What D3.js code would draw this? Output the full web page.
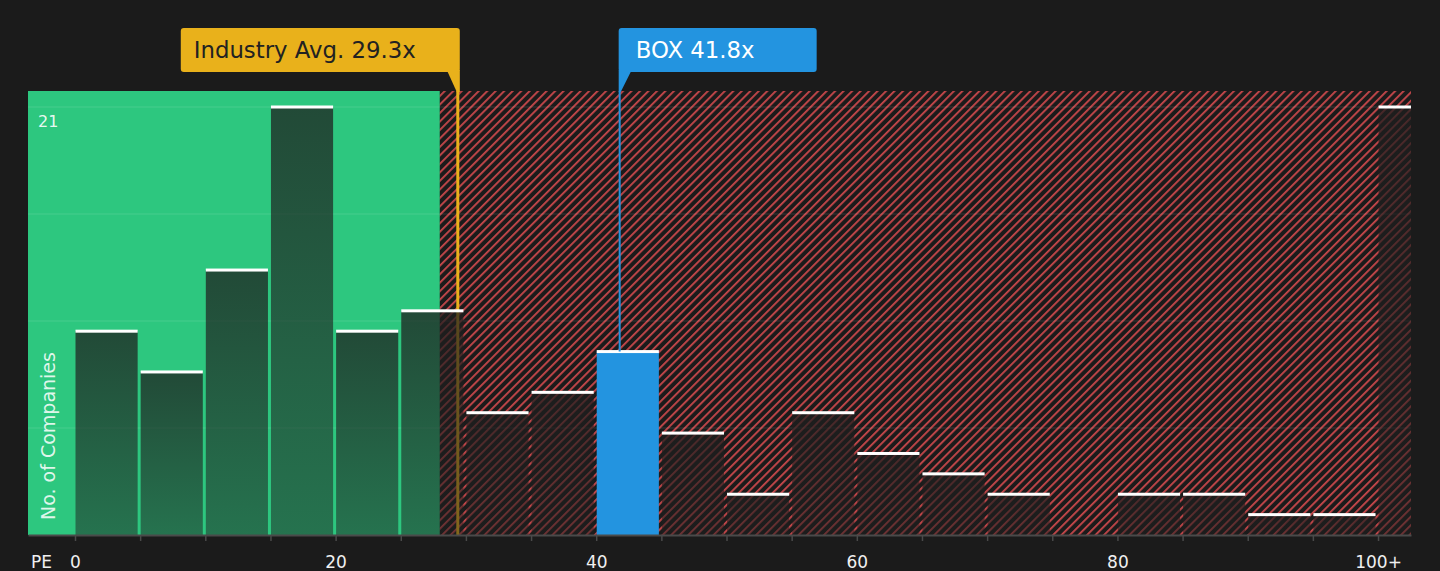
<!DOCTYPE html>
<meta charset="utf-8">
<script src="https://d3js.org/d3.v7.min.js"></script>
<style>
  body { margin: 0; background: #1b1b1b; }
  text { font-family: "DejaVu Sans", sans-serif; }
</style>
<div id="chart"></div>
<script>

    // PE histogram bins (lower edge of each 5-wide bin, last one is 100+)
    var binStarts = [0, 5, 10, 15, 20, 25, 30, 35, 40, 45, 50, 55, 60, 65, 70, 75, 80, 85, 90, 95, 100];
    var counts = [10, 8, 13, 21, 10, 11, 6, 7, 9, 5, 2, 6, 4, 3, 2, 0, 2, 2, 1, 1, 21];
    var xTickValues = [0, 5, 10, 15, 20, 25, 30, 35, 40, 45, 50, 55, 60, 65, 70, 75, 80, 85, 90, 95, 100];
    var xTickLabels = { 0: "0", 20: "20", 40: "40", 60: "60", 80: "80", 100: "100+" };
    var yGridValues = [5.25, 10.5, 15.75, 21];
    var yLabelValue = 21;
    var fairZoneEnd = 28;
    var industryAvg = 29.3;
    var companyName = "BOX";
    var companyPE = 41.8;

    var width = 1440, height = 571;
    var plot = { left: 28, right: 1411, top: 91, bottom: 535 };

    var svg = d3.select("#chart")
        .append("svg")
        .attr("width", width)
        .attr("height", height)
        .style("display", "block");

    svg.append("rect").attr("width", width).attr("height", height).attr("fill", "#1b1b1b");

    var x = d3.scaleLinear()
        .domain([-3.607, 102.53])
        .range([plot.left, plot.right]);

    var y = d3.scaleLinear()
        .domain([0, 21])
        .range([plot.bottom, 107]);

    var defs = svg.append("defs");

    // red hatching
    var pat = defs.append("pattern")
        .attr("id", "hatch")
        .attr("patternUnits", "userSpaceOnUse")
        .attr("width", 6)
        .attr("height", 6)
        .attr("patternTransform", "rotate(45)");
    pat.append("rect").attr("width", 6).attr("height", 6).attr("fill", "#1b1b1b");
    pat.append("rect").attr("width", 1.8).attr("height", 6).attr("fill", "#c9484b");

    var grad = defs.append("linearGradient")
        .attr("id", "barGrad")
        .attr("x1", 0).attr("y1", 0).attr("x2", 0).attr("y2", 1);
    grad.append("stop").attr("offset", "0%").attr("stop-color", "#1e1e1e").attr("stop-opacity", 0.74);
    grad.append("stop").attr("offset", "100%").attr("stop-color", "#1e1e1e").attr("stop-opacity", 0.5);

    defs.append("clipPath").attr("id", "plotClip")
        .append("rect")
        .attr("x", plot.left).attr("y", plot.top - 5)
        .attr("width", plot.right - plot.left)
        .attr("height", plot.bottom - plot.top + 5);

    // zones
    svg.append("rect")
        .attr("x", plot.left)
        .attr("y", plot.top)
        .attr("width", x(fairZoneEnd) - plot.left)
        .attr("height", plot.bottom - plot.top)
        .attr("fill", "#2dc77f");

    svg.append("rect")
        .attr("x", x(fairZoneEnd))
        .attr("y", plot.top)
        .attr("width", plot.right - x(fairZoneEnd))
        .attr("height", plot.bottom - plot.top)
        .attr("fill", "url(#hatch)");

    // gridlines
    svg.selectAll(".grid")
        .data(yGridValues)
        .enter()
        .append("line")
        .attr("x1", plot.left)
        .attr("x2", plot.right)
        .attr("y1", function (d) { return y(d); })
        .attr("y2", function (d) { return y(d); })
        .attr("stroke", "#ffffff")
        .attr("stroke-opacity", 0.12)
        .attr("stroke-width", 1);

    // industry avg line
    svg.append("line")
        .attr("x1", x(industryAvg) + 1).attr("x2", x(industryAvg) + 1)
        .attr("y1", plot.top).attr("y2", plot.bottom)
        .attr("stroke", "#e9b11b")
        .attr("stroke-width", 3);

    var bins = binStarts.map(function (d, i) { return { lo: d, hi: d + 5, v: counts[i] }; });

    var g = svg.append("g").attr("clip-path", "url(#plotClip)");

    // company line, up to its bar
    var compBin = bins.find(function (d) { return companyPE >= d.lo && companyPE < d.hi; });
    svg.append("line")
        .attr("x1", x(companyPE)).attr("x2", x(companyPE))
        .attr("y1", plot.top).attr("y2", y(compBin.v))
        .attr("stroke", "#2394e0")
        .attr("stroke-width", 2);

    // bars
    g.selectAll(".bar")
        .data(bins)
        .enter()
        .append("rect")
        .attr("x", function (d) { return x(d.lo) + 0.5; })
        .attr("y", function (d) { return y(d.v); })
        .attr("width", function (d) { return x(d.hi) - x(d.lo) - 3; })
        .attr("height", function (d) { return y(0) - y(d.v); })
        .attr("fill", function (d) { return d === compBin ? "#2394e0" : "url(#barGrad)"; });

    g.selectAll(".cap")
        .data(bins.filter(function (d) { return d.v > 0; }))
        .enter()
        .append("rect")
        .attr("x", function (d) { return x(d.lo) + 0.5; })
        .attr("y", function (d) { return y(d.v) - 1.5; })
        .attr("width", function (d) { return x(d.hi) - x(d.lo) - 3; })
        .attr("height", 3)
        .attr("fill", "#ffffff");

    // x axis
    var xAxis = svg.append("g")
        .attr("transform", "translate(0," + plot.bottom + ")")
        .call(d3.axisBottom(x)
            .tickValues(xTickValues)
            .tickSize(6)
            .tickSizeOuter(0)
            .tickPadding(15)
            .tickFormat(function (d) { return xTickLabels[d] || ""; }));
    xAxis.select(".domain").attr("stroke", "#4a4a4a").attr("stroke-width", 2);
    xAxis.selectAll(".tick line").attr("stroke", "#4a4a4a").attr("stroke-width", 1.5);
    xAxis.selectAll(".tick text")
        .attr("fill", "#f0f0f0")
        .style("font-size", "17px")
        .style("font-family", "DejaVu Sans");

    svg.append("text")
        .attr("x", 31)
        .attr("y", 568)
        .attr("fill", "#f0f0f0")
        .style("font-size", "17px")
        .text("PE");

    // y label
    svg.append("text")
        .attr("x", 38)
        .attr("y", y(yLabelValue) + 20)
        .attr("fill", "#ffffff")
        .attr("fill-opacity", 0.9)
        .style("font-size", "16px")
        .text(yLabelValue);

    svg.append("text")
        .attr("transform", "translate(55,520) rotate(-90)")
        .attr("fill", "#ffffff")
        .attr("fill-opacity", 0.85)
        .style("font-size", "19px")
        .text("No. of Companies");

    // annotations
    var ix = x(industryAvg) + 1;
    svg.append("path")
        .attr("d", "M" + (ix - 11) + ",70 L" + (ix + 2) + ",70 L" + (ix + 2) + ",92 L" + (ix - 1) + ",92 Z")
        .attr("fill", "#e9b11b");
    svg.append("rect")
        .attr("x", ix - 277).attr("y", 28)
        .attr("width", 279).attr("height", 44)
        .attr("rx", 3)
        .attr("fill", "#e9b11b");
    svg.append("text")
        .attr("x", ix - 264).attr("y", 58)
        .attr("fill", "#222222")
        .style("font-size", "22.8px")
        .text("Industry Avg. " + industryAvg + "x");

    var cx = x(companyPE);
    svg.append("path")
        .attr("d", "M" + (cx - 1) + ",70 L" + (cx + 12) + ",70 L" + (cx + 1) + ",92 L" + (cx - 1) + ",92 Z")
        .attr("fill", "#2394e0");
    svg.append("rect")
        .attr("x", cx - 1).attr("y", 28)
        .attr("width", 198).attr("height", 44)
        .attr("rx", 3)
        .attr("fill", "#2394e0");
    svg.append("text")
        .attr("x", cx + 16).attr("y", 58)
        .attr("fill", "#ffffff")
        .style("font-size", "22.8px")
        .text(companyName + " " + companyPE + "x");

</script>
